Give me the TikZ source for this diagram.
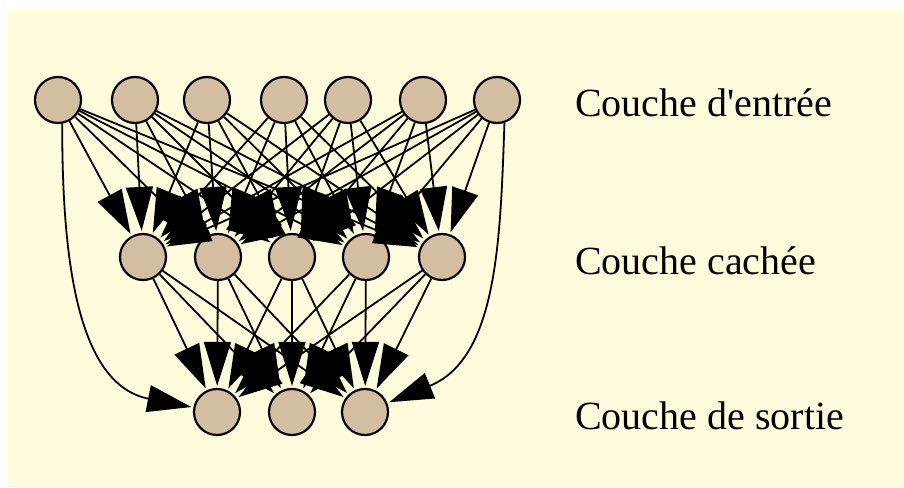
\documentclass[tikz,border=0pt]{standalone}
\usepackage{fontspec}
\setmainfont{Liberation Serif}
\usetikzlibrary{arrows.meta,shapes.geometric}
\definecolor{paper}{RGB}{255,251,221}
\definecolor{neuronfill}{RGB}{211,190,161}
\begin{document}
\begin{tikzpicture}[x=1pt,y=1pt,
  neuron/.style={circle, draw=black, line width=2.2pt, fill=neuronfill,
    minimum size=46pt, inner sep=0pt},
  link/.style={line width=1.8pt, -{Triangle[length=44pt,width=27pt]},
    shorten >=2pt},
  layerlabel/.style={anchor=base west, inner sep=0pt,
    font=\fontsize{40}{48}\selectfont}]
\useasboundingbox (0,0) rectangle (904,487);
\fill[paper] (8,0) rectangle (904,477);

% input layer
\foreach \x [count=\i] in {58,135,207,284,348,423,497}
  \node[neuron] (i\i) at (\x,387) {};
% hidden layer
\foreach \x [count=\i] in {143,218,292,366,442}
  \node[neuron] (h\i) at (\x,230) {};
% output layer
\foreach \x [count=\i] in {217,292,365}
  \node[neuron] (o\i) at (\x,75) {};

% fully connected links
\foreach \i in {1,...,7}
  \foreach \j in {1,...,5}
    \draw[link] (i\i) -- (h\j);
\foreach \i in {1,...,5}
  \foreach \j in {1,...,3}
    \draw[link] (h\i) -- (o\j);

% skip links from the outer inputs
\draw[link] (i1.-80) to[out=-90,in=169] (o1);
\draw[link] (i7.-72) to[out=-92,in=22] (o3);

% layer names
\node[layerlabel] (l1) at (575,370) {Couche d\textquotesingle entrée};
\node[layerlabel] (l2) at (575,212) {Couche cachée};
\node[layerlabel] (l3) at (575,57) {Couche de sortie};
\end{tikzpicture}
\end{document}
